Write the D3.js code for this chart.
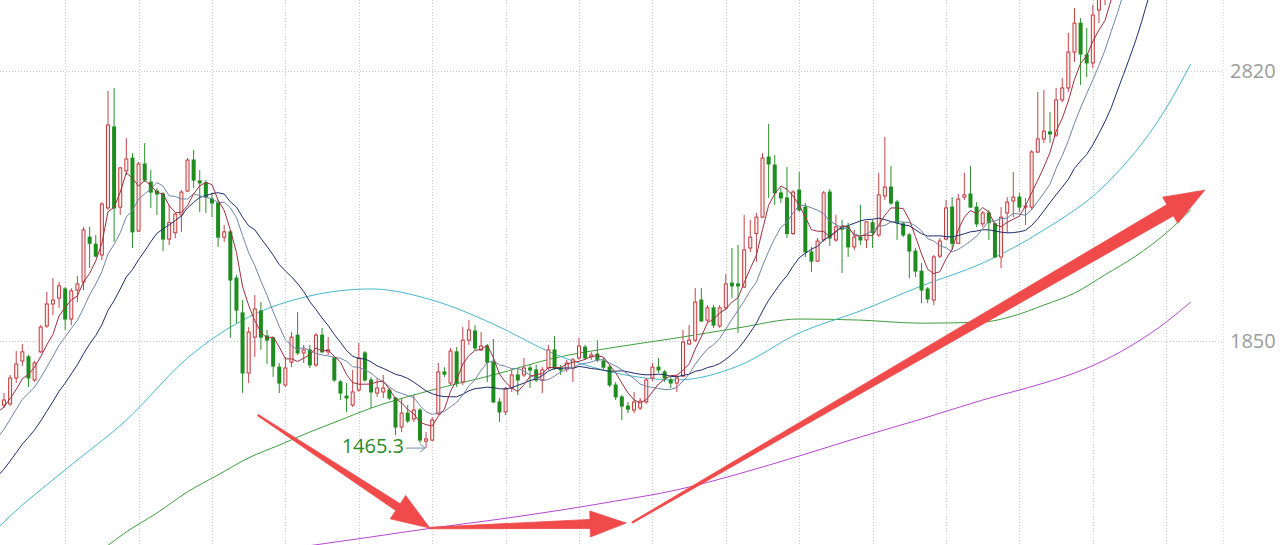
<!DOCTYPE html>
<html><head><meta charset="utf-8">
<script src="https://cdn.jsdelivr.net/npm/d3@7"></script>
<style>html,body{margin:0;padding:0;background:#fff;overflow:hidden}svg{display:block}</style>
</head><body>
<svg id="c" width="1280" height="545"></svg>
<script>
// ---- data (prices) ----
const priorCloses = [1081,1099,1117,1135,1153,1135,1171,1189,1225,1243,1261,1279,1297,1315,1351,1358,1405,1458,1494,1548,1566,1602,1620,1638];
const opens = [1620,1624,1717,1778,1793,1710,1811,1904,1983,2004,2037,1929,2033,2062,2223,2198,2159,2328,2619,2331,2461,2507,2245,2486,2421,2389,2378,2216,2239,2303,2389,2500,2425,2418,2360,2346,2223,2242,2076,1951,1735,1864,1958,1868,1861,1756,1692,1774,1871,1807,1818,1764,1871,1811,1789,1703,1652,1620,1674,1807,1710,1663,1667,1674,1645,1541,1591,1570,1602,1490,1494,1588,1739,1699,1811,1703,1853,1886,1818,1832,1774,1631,1595,1681,1728,1728,1753,1746,1710,1753,1818,1753,1749,1753,1789,1828,1793,1803,1778,1756,1692,1649,1616,1602,1609,1631,1717,1756,1739,1710,1699,1724,1839,1853,1997,1925,1969,1904,1969,2058,2055,2044,2184,2236,2295,2511,2482,2382,2364,2236,2392,2331,2170,2137,2213,2385,2213,2260,2260,2188,2223,2213,2275,2231,2371,2403,2349,2271,2231,2173,2101,2037,1997,2155,2216,2331,2201,2367,2378,2331,2271,2310,2271,2152,2310,2353,2367,2331,2331,2529,2576,2601,2590,2716,2759,2888,2992,2878,2849,3039,3093,3165,3255,3362,3470,3542,3614,3722,3865,3973,4081,4153,4225,4297,4368];
const highs = [1663,1728,1814,1839,1800,1778,1907,2026,2076,2062,2044,2040,2084,2260,2260,2231,2349,2748,2759,2475,2579,2525,2493,2561,2464,2400,2385,2339,2310,2392,2507,2536,2464,2428,2382,2357,2267,2249,2087,1997,1900,2015,1990,1890,1864,1771,1793,1882,1954,1836,1836,1879,1897,1864,1796,1710,1699,1746,1843,1814,1721,1717,1728,1681,1649,1645,1620,1656,1609,1523,1577,1771,1756,1825,1828,1900,1925,1907,1882,1839,1857,1645,1685,1746,1753,1789,1764,1764,1756,1836,1868,1764,1782,1789,1861,1836,1811,1853,1789,1764,1703,1656,1631,1667,1645,1717,1771,1789,1746,1721,1728,1890,1907,2040,2040,1979,1979,1979,2091,2184,2195,2303,2285,2310,2525,2630,2518,2400,2475,2392,2457,2346,2188,2220,2389,2396,2303,2285,2275,2249,2339,2281,2285,2454,2583,2479,2357,2278,2238,2184,2130,2044,2159,2220,2357,2367,2378,2454,2479,2349,2317,2321,2278,2331,2367,2457,2382,2364,2536,2745,2752,2673,2759,2795,2957,3046,3010,2975,3057,3129,3201,3280,3380,3490,3560,3640,3740,3880,3990,4100,4170,4240,4310,4390,4460];
const lows = [1609,1616,1699,1760,1685,1703,1807,1897,1943,1969,1890,1907,1990,2033,2112,2152,2141,2321,2206,2303,2446,2184,2242,2421,2328,2303,2173,2195,2220,2242,2385,2400,2313,2310,2295,2188,2206,1861,1914,1663,1699,1793,1818,1767,1721,1663,1685,1756,1800,1771,1753,1756,1807,1800,1703,1638,1595,1613,1667,1703,1609,1649,1645,1638,1512,1523,1555,1559,1483,1465.3,1490,1584,1721,1692,1685,1692,1836,1818,1814,1703,1627,1559,1584,1667,1656,1721,1681,1703,1663,1746,1746,1728,1739,1703,1782,1782,1782,1774,1749,1685,1638,1566,1591,1591,1602,1624,1706,1735,1703,1681,1667,1721,1836,1846,1918,1914,1897,1897,1961,2004,1879,2040,2170,2134,2292,2364,2339,2346,2220,2231,2313,2152,2098,2134,2206,2191,2206,2094,2152,2177,2195,2184,2184,2223,2357,2339,2213,2223,2076,2080,1986,1986,1979,2148,2213,2177,2198,2357,2328,2260,2260,2213,2148,2112,2238,2295,2313,2267,2321,2525,2561,2561,2583,2708,2745,2852,2770,2798,2831,2992,3057,3140,3230,3340,3450,3520,3600,3700,3850,3950,4060,4130,4200,4280,4350];
const closes = [1638,1717,1767,1811,1717,1771,1900,1983,1997,2048,1929,2030,2055,2249,2201,2155,2342,2626,2328,2472,2504,2242,2486,2428,2385,2378,2216,2275,2306,2385,2500,2428,2418,2367,2346,2223,2242,2069,1961,1735,1882,1965,1864,1853,1760,1699,1753,1864,1807,1818,1764,1871,1811,1818,1710,1663,1645,1667,1789,1710,1667,1681,1681,1645,1541,1591,1563,1602,1494,1498,1566,1739,1731,1814,1699,1853,1890,1825,1832,1774,1631,1595,1678,1728,1710,1753,1746,1710,1746,1818,1753,1746,1771,1782,1832,1789,1800,1782,1756,1692,1649,1616,1605,1631,1634,1710,1756,1746,1717,1699,1717,1846,1853,1990,1922,1969,1907,1969,2055,2048,2048,2177,2223,2295,2507,2486,2382,2364,2236,2385,2321,2170,2137,2209,2382,2220,2260,2252,2188,2223,2213,2278,2239,2375,2403,2346,2275,2231,2173,2101,2033,2001,2152,2209,2328,2201,2360,2375,2331,2271,2310,2275,2152,2295,2349,2367,2331,2335,2529,2576,2604,2594,2716,2759,2888,2992,2881,2849,3021,3093,3165,3255,3362,3470,3542,3614,3722,3865,3973,4081,4153,4225,4297,4368,4440];

// longer moving averages (candle index, price)
const ma60Idx = [-1,0,10,20,30,40,50,60,70,80,90,100,110,120,130,140,150,160,170,180,190,194];
const ma60Val = [1178,1200,1387,1566,1789,1936,2012,2037,1997,1911,1803,1735,1710,1760,1879,1958,2048,2130,2249,2410,2687,2845];
const ma120Idx = [16,20,25,30,35,40,45,50,55,60,70,80,90,100,110,120,130,140,150,160,165,170,175,180,185,190,194];
const ma120Val = [1099,1164,1232,1308,1369,1430,1476,1523,1566,1609,1674,1728,1789,1828,1861,1897,1929,1925,1914,1918,1940,1979,2022,2088,2155,2238,2321];
const ma250Idx = [44,60,70,80,90,100,110,120,130,140,150,160,170,175,180,185,190,194];
const ma250Val = [1096,1146,1178,1207,1239,1275,1315,1372,1437,1505,1570,1638,1699,1735,1782,1843,1918,1990];

const yTicks = [1850, 2820];
const lowLabel = {idx: 69, value: 1465.3, text: "1465.3"};

// annotation arrows in (index, price)
const arrows = [
  {from:[41.5,1584], to:[69.6,1178], w0:1.5, w1:8, hl:38, hw:14},
  {from:[69.6,1178], to:[101.7,1196], w0:1.5, w1:9, hl:36, hw:13},
  {from:[102.7,1198], to:[196.3,2392], w0:1.5, w1:13, hl:40, hw:15}
];

// ---- chart ----
const W = 1280, H = 545, plotRight = 1223, step = 6.117;
const N = closes.length;
const svg = d3.select('#c');
const x = d3.scaleLinear().domain([0, N - 1]).range([4, 4 + (N - 1) * step]);
const y = d3.scaleLinear().domain([1850, 2820]).range([341, 71]);

const grid = svg.append('g').attr('stroke', '#c8c8c8').attr('stroke-dasharray', '1,2').attr('stroke-width', 1);
d3.range(10, N + 12, 12).filter(i => x(i) < plotRight).forEach(i => {
  const gx = Math.round(x(i)) + 0.5;
  grid.append('line').attr('x1', gx).attr('x2', gx).attr('y1', 0).attr('y2', H);
});
grid.append('line').attr('x1', plotRight + 0.5).attr('x2', plotRight + 0.5).attr('y1', 0).attr('y2', H).attr('stroke', '#dcdcdc');
yTicks.forEach(t => {
  const gy = Math.round(y(t)) + 0.5;
  grid.append('line').attr('x1', 0).attr('x2', plotRight).attr('y1', gy).attr('y2', gy);
});

// y axis labels
const ax = svg.append('g').attr('transform', `translate(${plotRight},0)`)
  .call(d3.axisRight(y).tickValues(yTicks).tickSize(0).tickPadding(7).tickFormat(d3.format('d')));
ax.select('.domain').remove();
ax.selectAll('text').attr('font-family', '"Open Sans", "Noto Sans", sans-serif').attr('font-size', 20).attr('fill', '#9b9b9b');

// moving averages
const allCloses = priorCloses.concat(closes);
const off = priorCloses.length;
function ma(n) {
  const pts = [];
  for (let i = -2; i < N; i++) {
    const k = i + off;
    if (k - n + 1 < 0) continue;
    pts.push([i, d3.mean(allCloses.slice(k - n + 1, k + 1))]);
  }
  return pts;
}
const lineStraight = d3.line().x(d => x(d[0])).y(d => y(d[1]));
const lineSmooth = d3.line().x(d => x(d[0])).y(d => y(d[1])).curve(d3.curveMonotoneX);
const maG = svg.append('g').attr('fill', 'none').attr('stroke-width', 1);
maG.append('path').attr('d', lineSmooth(d3.zip(ma250Idx, ma250Val))).attr('stroke', '#b347d0');
maG.append('path').attr('d', lineSmooth(d3.zip(ma120Idx, ma120Val))).attr('stroke', '#3f9e3f');
maG.append('path').attr('d', lineSmooth(d3.zip(ma60Idx, ma60Val))).attr('stroke', '#45b7cc');

// candles
const cg = svg.append('g');
for (let i = 0; i < N; i++) {
  const o = opens[i], h = highs[i], l = lows[i], c = closes[i];
  const cx = x(i);
  const up = c >= o;
  cg.append('line').attr('x1', cx).attr('x2', cx).attr('y1', y(h)).attr('y2', y(l))
    .attr('stroke', up ? '#c0464a' : '#2b8f2b').attr('stroke-width', 1);
  const top = y(Math.max(o, c)), bot = y(Math.min(o, c));
  if (up) {
    cg.append('rect').attr('x', cx - 1.5).attr('y', top).attr('width', 3).attr('height', Math.max(1, bot - top))
      .attr('fill', '#fdeeee').attr('stroke', '#c23a3e').attr('stroke-width', 1);
  } else {
    cg.append('rect').attr('x', cx - 2).attr('y', top - 0.5).attr('width', 4).attr('height', Math.max(1.5, bot - top + 1))
      .attr('fill', '#1e8c1e');
  }
}

const maG2 = svg.append('g').attr('fill', 'none').attr('stroke-width', 1);
maG2.append('path').attr('d', lineStraight(ma(20))).attr('stroke', '#1f2c6b');
maG2.append('path').attr('d', lineStraight(ma(10))).attr('stroke', '#7182a8');
maG2.append('path').attr('d', lineStraight(ma(5))).attr('stroke', '#9c2f3f');

// low annotation
const lx = x(lowLabel.idx), ly = y(lowLabel.value);
svg.append('text').attr('x', lx - 22).attr('y', ly).attr('text-anchor', 'end').attr('dominant-baseline', 'middle')
  .attr('font-family', '"Open Sans", "Noto Sans", sans-serif').attr('font-size', 20).attr('fill', '#2a8a2a').text(lowLabel.text);
const ag = svg.append('g').attr('stroke', '#6f8fb8').attr('fill', 'none').attr('stroke-width', 1);
ag.append('line').attr('x1', lx - 20).attr('x2', lx - 1).attr('y1', ly).attr('y2', ly);
ag.append('path').attr('d', `M${lx - 6},${ly - 4}L${lx - 1},${ly}L${lx - 6},${ly + 4}`);

// red arrows
function arrowPoly(a) {
  const p0 = [x(a.from[0]), y(a.from[1])], p1 = [x(a.to[0]), y(a.to[1])];
  const dx = p1[0] - p0[0], dy = p1[1] - p0[1], L = Math.hypot(dx, dy);
  const ux = dx / L, uy = dy / L, nx = -uy, ny = ux;
  const bx = p1[0] - ux * a.hl, by = p1[1] - uy * a.hl;
  return [[p0[0] + nx * a.w0 / 2, p0[1] + ny * a.w0 / 2], [bx + nx * a.w1 / 2, by + ny * a.w1 / 2], [bx + nx * a.hw, by + ny * a.hw],
    p1, [bx - nx * a.hw, by - ny * a.hw], [bx - nx * a.w1 / 2, by - ny * a.w1 / 2], [p0[0] - nx * a.w0 / 2, p0[1] - ny * a.w0 / 2]];
}
svg.append('g').selectAll('path').data(arrows).join('path')
  .attr('d', a => 'M' + arrowPoly(a).map(p => p.join(',')).join('L') + 'Z')
  .attr('fill', '#f04a4a').attr('stroke', '#f04a4a').attr('stroke-width', 0.8).attr('stroke-linejoin', 'round');
</script>
</body></html>
